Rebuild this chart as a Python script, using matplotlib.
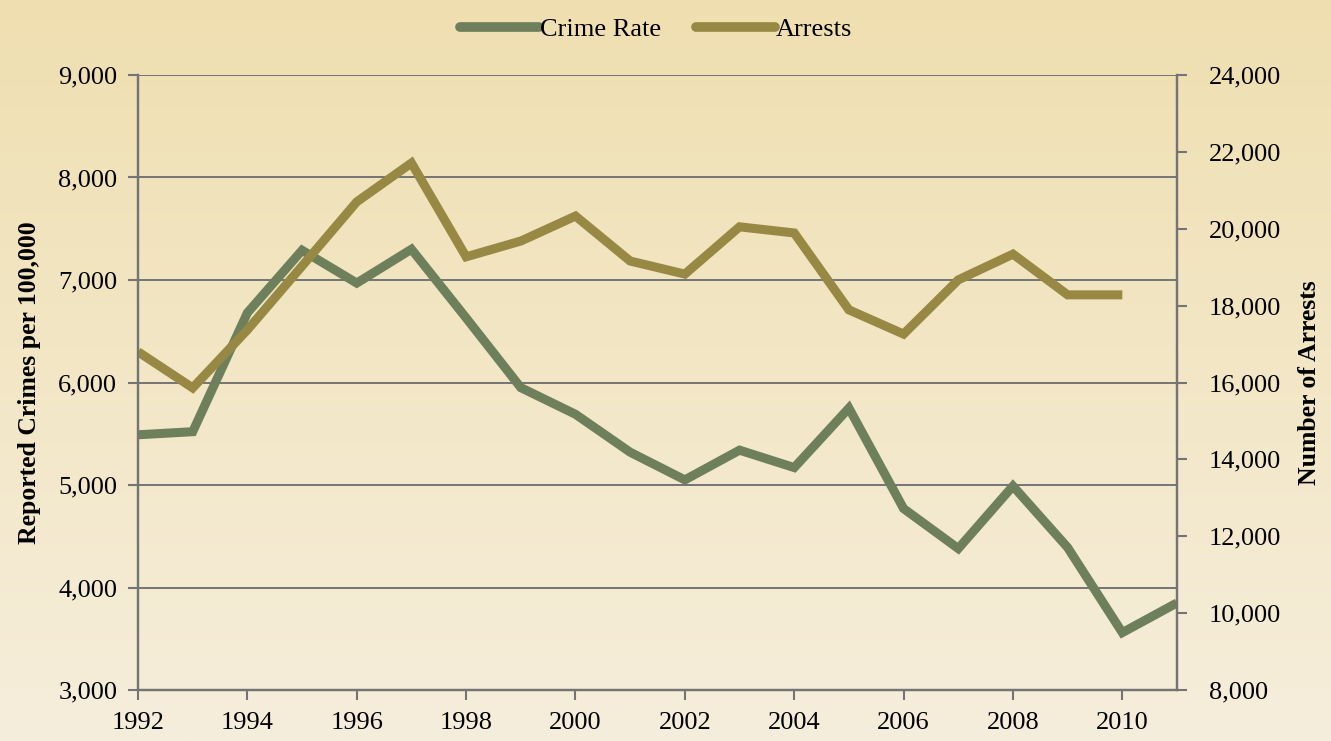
import numpy as np
import matplotlib
matplotlib.use("Agg")
import matplotlib.pyplot as plt
from matplotlib.ticker import FuncFormatter, MultipleLocator

# data
years = list(range(1992, 2012))
crime_rate = [5490, 5520, 6680, 7290, 6970, 7300, 6630, 5950, 5690, 5320,
              5050, 5340, 5170, 5750, 4770, 4380, 4990, 4390, 3560, 3850]
arrest_years = list(range(1992, 2011))
arrests = [16800, 15860, 17370, 19030, 20700, 21710, 19270, 19680, 20330, 19160,
           18820, 20050, 19890, 17890, 17260, 18670, 19340, 18280, 18280]

crime_color = "#6e7f5c"
arrest_color = "#978943"
axis_gray = "#747474"
plt.rcParams["font.family"] = "Liberation Serif"

fig = plt.figure(figsize=(13.31, 7.41), dpi=100)

# background gradient
bg = fig.add_axes([0, 0, 1, 1], zorder=-10)
top = np.array([0xef, 0xdf, 0xb0]) / 255
bot = np.array([0xf6, 0xee, 0xdc]) / 255
t = np.linspace(0, 1, 256)[:, None]
grad = top + (bot - top) * t
bg.imshow(grad[:, None, :].repeat(2, axis=1), aspect="auto", extent=[0, 1, 0, 1])
bg.axis("off")

ax = fig.add_axes([0.1037, 0.0688, 0.7806, 0.83])
ax.patch.set_alpha(0)
ax2 = ax.twinx()

l1, = ax.plot(years, crime_rate, color=crime_color, lw=6.5,
              solid_capstyle="butt", solid_joinstyle="miter", label="Crime Rate")
l2, = ax2.plot(arrest_years, arrests, color=arrest_color, lw=6.5,
               solid_capstyle="butt", solid_joinstyle="miter", label="Arrests")

ax.set_xlim(1992, 2011)
ax.set_ylim(3000, 9000)
ax2.set_ylim(8000, 24000)
ax.xaxis.set_major_locator(MultipleLocator(2))
ax.yaxis.set_major_locator(MultipleLocator(1000))
ax2.yaxis.set_major_locator(MultipleLocator(2000))
fmt = FuncFormatter(lambda v, p: f"{int(v):,}")
ax.yaxis.set_major_formatter(fmt)
ax2.yaxis.set_major_formatter(fmt)

ax.grid(axis="y", color=axis_gray, lw=1.4)
ax.set_axisbelow(True)
for a in (ax, ax2):
    for s in a.spines.values():
        s.set_color(axis_gray)
        s.set_linewidth(1.6)
    a.spines["top"].set_visible(False)
    a.tick_params(colors=axis_gray, width=1.5, length=7, labelsize=19,
                  labelcolor="black")
ax.tick_params(axis="y", pad=8)
ax2.tick_params(axis="y", pad=16)
ax.tick_params(axis="x", pad=9)

ax.set_ylabel("Reported Crimes per 100,000", fontsize=18.5, fontweight="bold",
              labelpad=12)
ax2.set_ylabel("Number of Arrests", fontsize=18.5, fontweight="bold", labelpad=12)

leg = fig.legend(handles=[l1, l2], loc="upper center", bbox_to_anchor=(0.493, 1.008),
                 ncol=2, frameon=False, fontsize=19, handlelength=3.0,
                 handletextpad=0.05, columnspacing=1.3)
for h in leg.get_lines():
    h.set_solid_capstyle("round")
    h.set_linewidth(7)

fig.savefig("out.png", dpi=100)
